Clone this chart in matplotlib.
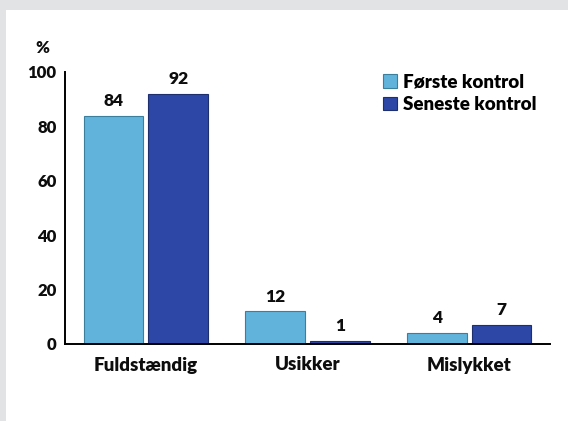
import matplotlib.pyplot as plt
import numpy as np
from matplotlib.patches import Rectangle

# Data
categories = ["Fuldstændig", "Usikker", "Mislykket"]
first_check = [84, 12, 4]
last_check = [92, 1, 7]
series_names = ["Første kontrol", "Seneste kontrol"]

plt.rcParams.update({
    "font.family": ["Lato", "DejaVu Sans"],
    "font.weight": "heavy",
})

light = "#62b3dc"
dark = "#2c47a6"
ink = "#0d0d0d"

fig = plt.figure(figsize=(5.68, 4.21), dpi=100)
fig.patch.set_facecolor("#e2e3e5")
# white inner panel, behind the axes
panel = Rectangle((6 / 568, 0), 1, 1 - 10 / 421, transform=fig.transFigure,
                  facecolor="white", edgecolor="none", zorder=-10)
fig.add_artist(panel)

ax = fig.add_axes([65 / 568, 1 - 344 / 421, (550 - 65) / 568, (344 - 72) / 421])
ax.set_facecolor("none")

x = np.arange(len(categories))
w = 0.37
b1 = ax.bar(x - 0.2, first_check, w, color=light, edgecolor="#3c7f9c", linewidth=0.8,
            label=series_names[0])
b2 = ax.bar(x + 0.2, last_check, w, color=dark, edgecolor="#1e2f70", linewidth=0.8,
            label=series_names[1])

for bars, vals in ((b1, first_check), (b2, last_check)):
    for rect, v in zip(bars, vals):
        ax.text(rect.get_x() + rect.get_width() / 2, v + 2.5, str(v),
                ha="center", va="bottom", fontsize=12.5, fontweight="heavy", color=ink)

ax.set_xlim(-0.5, 2.5)
ax.set_ylim(0, 100)
ax.set_yticks([0, 20, 40, 60, 80, 100])
ax.set_xticks(x)
ax.set_xticklabels(categories)
ax.tick_params(axis="both", length=0, colors=ink)
ax.tick_params(axis="y", pad=6, labelsize=12)
ax.tick_params(axis="x", pad=9, labelsize=13.5)
for lab in ax.get_xticklabels() + ax.get_yticklabels():
    lab.set_fontweight("heavy")

for s in ("top", "right"):
    ax.spines[s].set_visible(False)
ax.spines["left"].set_linewidth(1.4)
ax.spines["bottom"].set_linewidth(1.4)

ax.text(-0.047, 1.088, "%", transform=ax.transAxes, ha="center", va="center",
        fontsize=12, fontweight="heavy", color=ink)

ax.legend(loc="upper left", bbox_to_anchor=(0.656, 0.995), frameon=False, fontsize=13.5,
          handlelength=0.75, handleheight=0.75, handletextpad=0.3, labelspacing=0.3,
          borderaxespad=0.0, borderpad=0.0)

fig.savefig("out.png", dpi=100, facecolor=fig.get_facecolor())
